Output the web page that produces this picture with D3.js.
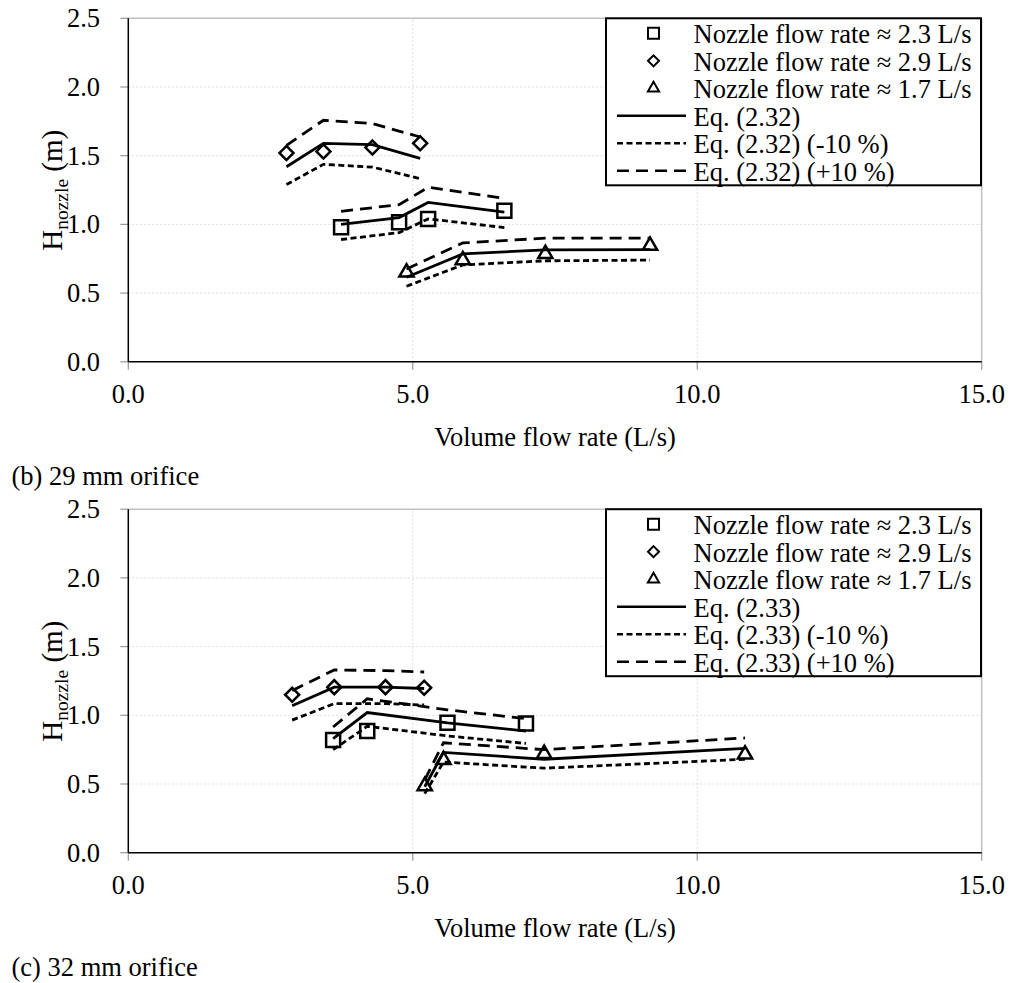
<!DOCTYPE html>
<html>
<head>
<meta charset="utf-8">
<script src="https://cdn.jsdelivr.net/npm/d3@7"></script>
<style>
	body { margin: 0; background: #fff; }
	text { font-family: "Liberation Serif", "Times New Roman", serif; fill: #000; }
</style>
</head>
<body>
<div id="app"></div>
<script>

// axis ticks
var xTicks = [0, 5, 10, 15]
var yTicks = [0, 0.5, 1.0, 1.5, 2.0, 2.5]

// (b) 29 mm orifice
var b_sqFlow = [3.74, 4.76, 5.27, 6.61]
var b_sqHead = [0.98, 1.015, 1.04, 1.10]
var b_sqEq = [1.00, 1.05, 1.16, 1.09]
var b_sqLo = [0.89, 0.94, 1.04, 0.977]
var b_sqHi = [1.095, 1.144, 1.27, 1.19]

var b_diFlow = [2.78, 3.43, 4.29, 5.13]
var b_diHead = [1.52, 1.53, 1.56, 1.59]
var b_diEq = [1.42, 1.59, 1.58, 1.48]
var b_diLo = [1.29, 1.437, 1.417, 1.333]
var b_diHi = [1.575, 1.758, 1.734, 1.636]

var b_trFlow = [4.89, 5.88, 7.33, 9.17]
var b_trHead = [0.65, 0.74, 0.785, 0.845]
var b_trEq = [0.615, 0.785, 0.815, 0.816]
var b_trLo = [0.55, 0.705, 0.735, 0.74]
var b_trHi = [0.675, 0.865, 0.90, 0.90]

// (c) 32 mm orifice
var c_sqFlow = [3.60, 4.20, 5.61, 6.99]
var c_sqHead = [0.82, 0.885, 0.945, 0.94]
var c_sqEq = [0.83, 1.02, 0.945, 0.885]
var c_sqLo = [0.75, 0.92, 0.85, 0.795]
var c_sqHi = [0.915, 1.12, 1.04, 0.975]

var c_diFlow = [2.88, 3.62, 4.52, 5.20]
var c_diHead = [1.15, 1.205, 1.205, 1.20]
var c_diEq = [1.07, 1.205, 1.205, 1.195]
var c_diLo = [0.965, 1.085, 1.085, 1.075]
var c_diHi = [1.18, 1.33, 1.325, 1.315]

var c_trFlow = [5.21, 5.54, 7.31, 10.84]
var c_trHead = [0.485, 0.675, 0.72, 0.715]
var c_trEq = [0.48, 0.73, 0.68, 0.76]
var c_trLo = [0.43, 0.66, 0.615, 0.68]
var c_trHi = [0.53, 0.80, 0.75, 0.835]

var legendPoints = ['Nozzle flow rate \u2248 2.3 L/s', 'Nozzle flow rate \u2248 2.9 L/s', 'Nozzle flow rate \u2248 1.7 L/s']

var width = 1010
var height = 983

var svg = d3.select('#app').append('svg')
	.attr('width', width)
	.attr('height', height)
	.attr('font-family', '"Liberation Serif", "Times New Roman", serif')

var x = d3.scaleLinear().domain([0, 15]).range([128.3, 981.7])

var lineStyles = {
	eq: null,
	lo: '6,3.5',
	hi: '12,7'
}

function pts(xs, ys) {
	return xs.map(function(v, i) { return [v, ys[i]] })
}

/**
 * marker path for a series shape
 */
function marker(shape, s) {
	if (shape === 'square') return d3.symbol(d3.symbolSquare, s * s)()
	if (shape === 'diamond') return d3.symbol(d3.symbolSquare, s * s * 0.5)()
	return d3.symbol(d3.symbolTriangle, s * s * 0.45)()
}

function drawPanel(top, eqName, series, caption, captionY) {

	var y = d3.scaleLinear().domain([0, 2.5]).range([top + 343.5, top])
	var g = svg.append('g')

	// grid
	g.selectAll('.hgrid').data(yTicks.slice(1, 5))
	  .enter().append('line')
		.attr('x1', x(0)).attr('x2', x(15))
		.attr('y1', function(d) { return y(d) }).attr('y2', function(d) { return y(d) })
		.attr('stroke', '#dcdcdc').attr('stroke-dasharray', '2,2')
	g.selectAll('.vgrid').data([5, 10])
	  .enter().append('line')
		.attr('x1', function(d) { return x(d) }).attr('x2', function(d) { return x(d) })
		.attr('y1', y(0)).attr('y2', y(2.5))
		.attr('stroke', '#dcdcdc').attr('stroke-dasharray', '2,2')
	g.append('line')
		.attr('x1', x(0)).attr('x2', x(15)).attr('y1', y(2.5)).attr('y2', y(2.5))
		.attr('stroke', '#c0c0c0').attr('stroke-width', 1.5)
	g.append('line')
		.attr('x1', x(15)).attr('x2', x(15)).attr('y1', y(2.5)).attr('y2', y(0))
		.attr('stroke', '#c0c0c0').attr('stroke-width', 1.5)

	// ticks
	g.selectAll('.yt').data(yTicks)
	  .enter().append('line')
		.attr('x1', x(0) - 8).attr('x2', x(0))
		.attr('y1', function(d) { return y(d) }).attr('y2', function(d) { return y(d) })
		.attr('stroke', '#999').attr('stroke-width', 1.2)
	g.selectAll('.xt').data(xTicks)
	  .enter().append('line')
		.attr('x1', function(d) { return x(d) }).attr('x2', function(d) { return x(d) })
		.attr('y1', y(0)).attr('y2', y(0) + 8)
		.attr('stroke', '#999').attr('stroke-width', 1.2)

	g.selectAll('.yl').data(yTicks)
	  .enter().append('text')
		.attr('x', 100).attr('y', function(d) { return y(d) + 9 })
		.attr('text-anchor', 'end').attr('font-size', 26.5)
		.text(function(d) { return d.toFixed(1) })
	g.selectAll('.xl').data(xTicks)
	  .enter().append('text')
		.attr('x', function(d) { return x(d) }).attr('y', y(0) + 41.5)
		.attr('text-anchor', 'middle').attr('font-size', 26.5)
		.text(function(d) { return d.toFixed(1) })

	// axis lines
	g.append('line')
		.attr('x1', x(0)).attr('x2', x(0)).attr('y1', y(2.5)).attr('y2', y(0))
		.attr('stroke', '#000').attr('stroke-width', 1.5)
	g.append('line')
		.attr('x1', x(0)).attr('x2', x(15)).attr('y1', y(0)).attr('y2', y(0))
		.attr('stroke', '#000').attr('stroke-width', 1.5)

	// axis titles
	g.append('text')
		.attr('x', (x(0) + x(15)) / 2).attr('y', y(0) + 84.5)
		.attr('text-anchor', 'middle').attr('font-size', 26.5)
		.text('Volume flow rate (L/s)')

	var yt = g.append('text')
		.attr('transform', 'translate(62,' + (top + 172) + ') rotate(-90)')
		.attr('text-anchor', 'middle').attr('font-size', 29)
	yt.append('tspan').text('H')
	yt.append('tspan').attr('font-size', 19.5).attr('dy', 6).text('nozzle')
	yt.append('tspan').attr('dy', -6).text(' (m)')

	var line = d3.line()
		.x(function(d) { return x(d[0]) })
		.y(function(d) { return y(d[1]) })

	// equation curves
	series.forEach(function(s) {
		['eq', 'lo', 'hi'].forEach(function(k) {
			g.append('path')
				.attr('d', line(pts(s.flow, s[k])))
				.attr('fill', 'none')
				.attr('stroke', '#000')
				.attr('stroke-width', 2.8)
				.attr('stroke-dasharray', lineStyles[k])
		})
	})

	// measured points
	series.forEach(function(s) {
		g.selectAll(null).data(pts(s.flow, s.head))
		  .enter().append('path')
			.attr('d', marker(s.shape, 14))
			.attr('transform', function(d) {
				return 'translate(' + x(d[0]) + ',' + y(d[1]) + ')' + (s.shape === 'diamond' ? ' rotate(45)' : '')
			})
			.attr('fill', 'none')
			.attr('stroke', '#000')
			.attr('stroke-width', 2.5)
	})

	// legend
	var lg = g.append('g').attr('transform', 'translate(606,' + top + ')')
	lg.append('rect')
		.attr('x', 0).attr('y', 0).attr('width', 375).attr('height', 167)
		.attr('fill', '#fff').attr('stroke', '#000').attr('stroke-width', 2)

	var labels = legendPoints.concat([eqName, eqName + ' (-10 %)', eqName + ' (+10 %)'])
	var keys = ['square', 'diamond', 'triangle', 'eq', 'lo', 'hi']

	labels.forEach(function(t, i) {
		var by = 25 + i * 27.5
		lg.append('text').attr('x', 87.5).attr('y', by).attr('font-size', 26.5).text(t)
		if (i < 3) {
			lg.append('path')
				.attr('d', marker(keys[i], 11))
				.attr('transform', 'translate(47.5,' + (by - 10) + ')' + (keys[i] === 'diamond' ? ' rotate(45)' : ''))
				.attr('fill', 'none').attr('stroke', '#000').attr('stroke-width', 2)
		} else {
			lg.append('line')
				.attr('x1', 11).attr('x2', 80).attr('y1', by - 10).attr('y2', by - 10)
				.attr('stroke', '#000').attr('stroke-width', 2.6)
				.attr('stroke-dasharray', lineStyles[keys[i]])
		}
	})

	// caption
	svg.append('text').attr('x', 11.5).attr('y', captionY).attr('font-size', 26.5).text(caption)
}

drawPanel(18.3, 'Eq. (2.32)', [
	{ shape: 'square', flow: b_sqFlow, head: b_sqHead, eq: b_sqEq, lo: b_sqLo, hi: b_sqHi },
	{ shape: 'diamond', flow: b_diFlow, head: b_diHead, eq: b_diEq, lo: b_diLo, hi: b_diHi },
	{ shape: 'triangle', flow: b_trFlow, head: b_trHead, eq: b_trEq, lo: b_trLo, hi: b_trHi }
], '(b) 29 mm orifice', 485)

drawPanel(509.2, 'Eq. (2.33)', [
	{ shape: 'square', flow: c_sqFlow, head: c_sqHead, eq: c_sqEq, lo: c_sqLo, hi: c_sqHi },
	{ shape: 'diamond', flow: c_diFlow, head: c_diHead, eq: c_diEq, lo: c_diLo, hi: c_diHi },
	{ shape: 'triangle', flow: c_trFlow, head: c_trHead, eq: c_trEq, lo: c_trLo, hi: c_trHi }
], '(c) 32 mm orifice', 976)

</script>
</body>
</html>
